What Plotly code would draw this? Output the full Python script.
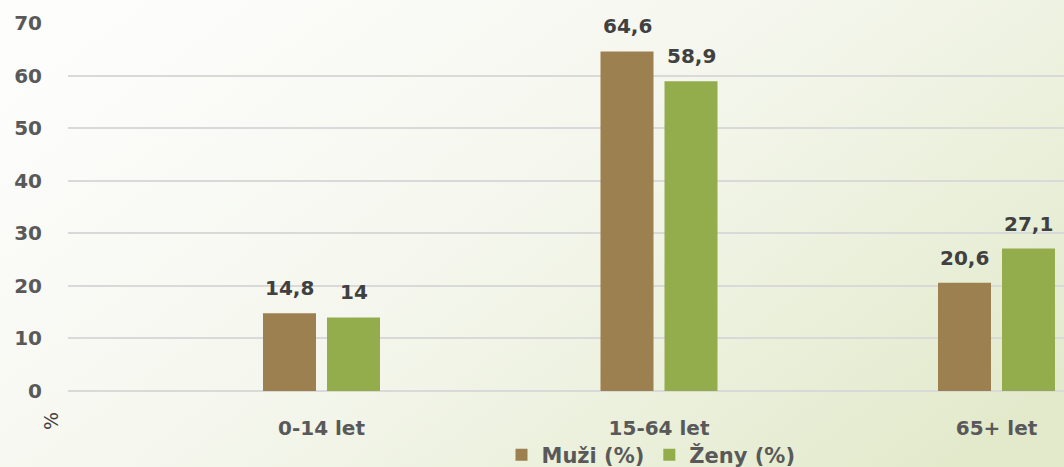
import base64
import plotly.graph_objects as go

categories = ["0-14 let", "15-64 let", "65+ let"]
muzi = [14.8, 64.6, 20.6]
zeny = [14.0, 58.9, 27.1]
muzi_labels = ["14,8", "64,6", "20,6"]
zeny_labels = ["14", "58,9", "27,1"]
series_names = ["Muži (%)", "Ženy (%)"]
y_ticks = [0, 10, 20, 30, 40, 50, 60, 70]

W, H = 1064, 467
ML, MR, MT, MB = 68, 0, 23, 76
PW, PH = W - ML - MR, H - MT - MB

svg = f'''<svg xmlns="http://www.w3.org/2000/svg" width="{W}" height="{H}" viewBox="0 0 {W} {H}" preserveAspectRatio="none">
<defs><linearGradient id="g" x1="0" y1="0.2" x2="1" y2="0.8">
<stop offset="0" stop-color="#fdfdfc"/>
<stop offset="0.45" stop-color="#f5f7ee"/>
<stop offset="1" stop-color="#e3eacc"/>
</linearGradient></defs>
<rect width="{W}" height="{H}" fill="url(#g)"/></svg>'''
bg_uri = "data:image/svg+xml;base64," + base64.b64encode(svg.encode()).decode()

xpos = list(range(len(categories)))
px_per_unit = 337.5
x_left = -(321.5 - ML) / px_per_unit
x_right = x_left + PW / px_per_unit

fig = go.Figure()
fig.add_trace(go.Bar(x=xpos, y=muzi, name=series_names[0],
                     marker=dict(color="#9c804f", line=dict(width=0))))
fig.add_trace(go.Bar(x=xpos, y=zeny, name=series_names[1],
                     marker=dict(color="#93ac4c", line=dict(width=0))))

off = 32 / px_per_unit
lab_font = dict(family="DejaVu Sans", size=20, color="#404040", weight="bold")
for i in xpos:
    fig.add_annotation(x=i - off, y=muzi[i], text=muzi_labels[i], showarrow=False,
                       yanchor="bottom", yshift=11, font=lab_font)
    fig.add_annotation(x=i + off, y=zeny[i], text=zeny_labels[i], showarrow=False,
                       yanchor="bottom", yshift=11, font=lab_font)

fig.add_annotation(xref="paper", yref="paper", x=(51 - ML) / PW, y=-(421 - (MT + PH)) / PH,
                   xanchor="center", yanchor="middle",
                   text="%", textangle=-90, showarrow=False,
                   font=dict(family="DejaVu Sans", size=19, color="#404040"))

tick_font = dict(family="DejaVu Sans", size=20, color="#595959", weight="bold")

fig.update_layout(
    width=W, height=H,
    margin=dict(l=ML, r=MR, t=MT, b=MB, pad=0, autoexpand=False),
    paper_bgcolor="#ffffff", plot_bgcolor="rgba(0,0,0,0)",
    barmode="group", bargap=1 - 128 / px_per_unit, bargroupgap=11 / 64,
    font=dict(family="DejaVu Sans", color="#595959"),
    showlegend=True,
    legend=dict(orientation="h", x=(651 - ML) / PW, xanchor="center",
                y=-(455 - (MT + PH)) / PH, yanchor="middle",
                font=dict(family="DejaVu Sans", size=21, color="#595959", weight="bold"),
                bgcolor="rgba(0,0,0,0)", itemwidth=30, traceorder="normal"),
    xaxis=dict(range=[x_left, x_right], tickvals=xpos, ticktext=categories,
               showgrid=False, zeroline=False, showline=False, automargin=False,
               ticks="outside", ticklen=19, tickcolor="rgba(0,0,0,0)",
               tickfont=tick_font),
    yaxis=dict(range=[0, 70], tickvals=y_ticks, showgrid=True, gridcolor="#d9d9d9", gridwidth=2,
               zeroline=True, zerolinecolor="#d9d9d9", zerolinewidth=2, showline=False,
               automargin=False,
               ticks="outside", ticklen=21, tickcolor="rgba(0,0,0,0)",
               tickfont=tick_font),
    images=[dict(source=bg_uri, xref="paper", yref="paper",
                 x=-ML / PW, y=1 + MT / PH, sizex=W / PW, sizey=H / PH,
                 xanchor="left", yanchor="top", sizing="stretch", layer="below")],
)

fig.write_html("out.html", config={"displayModeBar": False},
               post_script="document.body.style.margin='0';document.body.style.overflow='hidden';")
